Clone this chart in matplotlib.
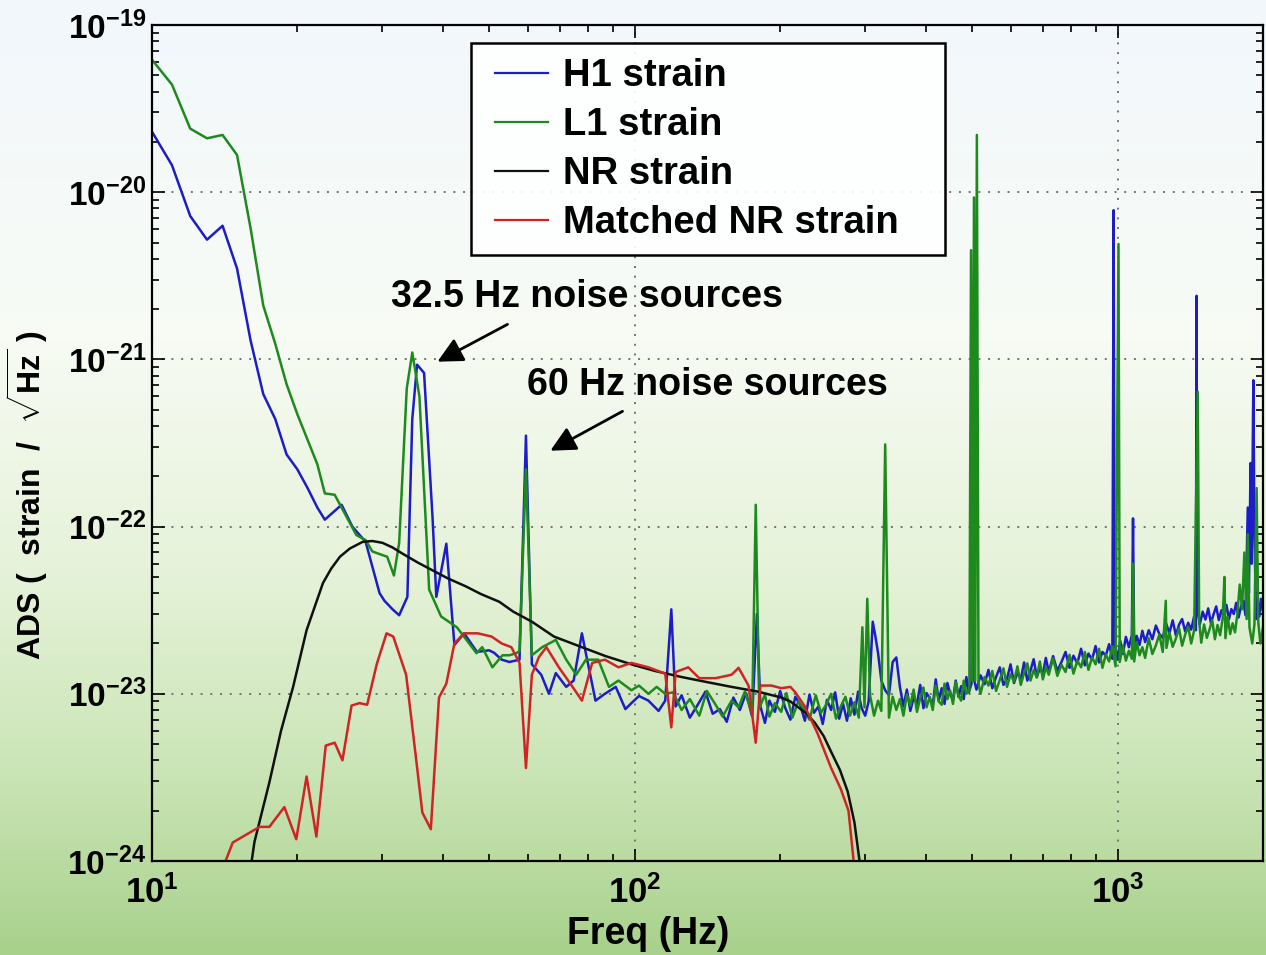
import numpy as np
import matplotlib
matplotlib.use("Agg")
import matplotlib.pyplot as plt
from matplotlib.patches import Rectangle
from matplotlib.ticker import FuncFormatter, FixedLocator, LogLocator, NullFormatter

plt.rcParams['font.family'] = ['Liberation Sans', 'DejaVu Sans']
plt.rcParams['font.weight'] = 'bold'
plt.rcParams['mathtext.fontset'] = 'custom'
plt.rcParams['mathtext.rm'] = 'Liberation Sans:bold'
plt.rcParams['mathtext.bf'] = 'Liberation Sans:bold'

# ADS values are in units of 1e-24 strain / sqrt(Hz)
UNIT = 1e-24
y_ticks = [1e-24, 1e-23, 1e-22, 1e-21, 1e-20, 1e-19]

# H1 strain
h1_freq = [10, 11, 12, 13, 14, 15, 16, 17, 18, 19, 20, 21, 22, 22.8, 24.7, 26.0, 27.7, 29.6, 30.3, 31.5,
           32.5, 33.8, 34.6, 35.4, 36.6, 38.1, 38.8, 40.7, 42.3, 44.3, 47.1, 49.9, 51.1, 53, 55, 57.7, 59.5, 61.2, 64, 66.4,
           68.6, 72.1, 74.7, 77.7, 79.2, 82.9, 86.7, 91.3, 95.6, 98.4, 102, 106.7, 112, 115.6, 119, 121.5,
           125, 130, 135, 140, 145, 150, 155, 160, 165, 170, 175, 179, 182, 186, 190, 195, 200, 205, 210, 215,
           220, 225, 230, 235, 240, 245, 250, 255, 260, 265, 270, 275, 280, 285, 290, 295, 300, 305, 311, 315,
           319, 324, 330, 336, 342, 348, 354, 360, 366, 372, 378, 384, 390, 396, 402, 408, 414, 420, 426, 432,
           438, 444, 450, 456, 462, 468, 474, 480, 486, 492, 498, 500, 502, 510, 520, 530, 540, 550, 560, 570,
           580, 590, 600, 610, 620, 630, 640, 650, 660, 670, 680, 690, 700, 710, 720, 735, 750, 765, 780, 795,
           810, 825, 840, 855, 870, 885, 900, 915, 930, 945, 960, 975, 981, 986, 1000, 1012, 1025, 1040, 1055, 1070,
           1076, 1082, 1095, 1110, 1125, 1140, 1160, 1180, 1200, 1220, 1240, 1260, 1280, 1300, 1320, 1340, 1360, 1380, 1400, 1420,
           1440, 1452, 1457, 1462, 1480, 1500, 1520, 1540, 1560, 1580, 1600, 1620, 1640, 1660, 1680, 1700, 1720, 1740, 1760, 1780,
           1800, 1820, 1840, 1860, 1870, 1885, 1895, 1910, 1920, 1935, 1950, 1965, 1980, 2000]
h1_ads = [23000, 14500, 7200, 5200, 6300, 3500, 1300, 620, 440, 270, 220, 170, 130, 110, 135, 100, 81, 40, 36, 32,
          29.5, 38, 440, 930, 830, 115, 38, 79, 19.6, 23, 17.8, 18.2, 17.6, 16, 15.5, 16, 350, 15, 13, 10,
          13.3, 11, 12, 23, 17.4, 9.1, 10, 11, 8.1, 8.8, 9.7, 9.1, 7.9, 9.1, 32, 8.4,
          9.8, 7.2, 8.6, 10.3, 7.6, 8.1, 6.8, 9.5, 8.0, 10.1, 7.3, 30, 8.4, 6.7, 9.1, 7.8, 10.4, 8.2, 7.0, 9.6,
          8.6, 6.9, 9.9, 7.7, 8.4, 6.6, 9.2, 8.0, 10.2, 7.1, 8.7, 6.9, 9.4, 7.5, 10.3, 8.2, 7.4, 9.0, 27, 22,
          17.5, 12, 10.5, 9.8, 15.5, 16.5, 11, 8.4, 10.6, 7.9, 9.5, 8.7, 11.3, 8.2, 10.1, 9.4, 8.5, 12.2, 9.1, 10.8,
          8.7, 11.6, 10.0, 9.2, 12.0, 9.6, 11.1, 9.3, 12.6, 10.2, 11.5, 100, 12.8, 10.6, 12.9, 11.4, 13.9, 10.8, 12.6, 14.4,
          11.3, 12.3, 15.0, 11.6, 13.4, 12.2, 15.4, 12.0, 13.8, 16.1, 12.6, 14.2, 13.1, 16.4, 13.5, 16.8, 13.7, 15.5, 17.8, 14.3,
          16.9, 15.2, 18.6, 14.8, 17.4, 16.0, 19.3, 15.4, 17.8, 16.9, 19.8, 16.2, 7800, 19.8, 16.0, 20.8, 17.3, 21.9, 19.0, 22.4,
          112, 18.3, 22.2, 19.6, 23.8, 20.4, 24.0, 21.2, 25.6, 22.8, 21.6, 26.3, 23.1, 27.5, 22.4, 25.9, 28.0, 23.6, 26.6, 24.2,
          29.0, 24, 2400, 32, 26.1, 31.0, 27.8, 32.4, 26.5, 29.9, 33.3, 27.6, 31.6, 28.8, 34.0, 27.9, 32.1, 30.0, 35.0, 28.6,
          33.2, 36.0, 29.5, 130, 40, 240, 60, 750, 90, 28, 36, 29, 37, 31]

# L1 strain
l1_freq = [10, 11, 12, 13, 14, 15, 16, 17, 18, 19, 20, 22, 22.8, 23.9, 26.5, 27.7, 28.6, 30.7, 31.7, 32.5,
           33.7, 34.6, 35.8, 37.5, 39.7, 42.8, 44.8, 47.0, 48.3, 50.7, 53.2, 55.0, 56.8, 57.7, 59.5, 61.2, 64.3, 68.6, 72.1, 75.6,
           79.2, 84, 88.4, 92.5, 98.4, 102, 106.7, 111, 115.6, 120, 125, 130, 136, 141, 147, 152, 158.6, 164, 169, 175,
           178, 181, 186, 190, 195, 201, 206, 212, 218, 224, 230, 237, 243, 249, 255, 261, 267, 273, 279, 285,
           291, 296, 299, 303, 307, 313, 319, 324, 330, 336, 342, 348, 354, 360, 366, 372, 378, 384, 390, 396,
           402, 408, 414, 420, 426, 432, 438, 444, 450, 456, 462, 468, 474, 480, 486, 493, 497, 500, 504, 507,
           511, 515, 520, 530, 540, 550, 560, 570, 580, 590, 600, 610, 620, 630, 640, 650, 660, 670, 680, 690,
           700, 710, 720, 735, 750, 765, 780, 795, 810, 825, 840, 855, 870, 885, 900, 915, 930, 945, 960, 975,
           990, 1004, 1010, 1025, 1040, 1055, 1070, 1076, 1082, 1095, 1110, 1125, 1140, 1160, 1180, 1200, 1220, 1240, 1258, 1262,
           1280, 1300, 1320, 1340, 1360, 1380, 1400, 1420, 1440, 1465, 1475, 1490, 1510, 1530, 1550, 1570, 1590, 1610, 1630, 1650,
           1664, 1672, 1690, 1710, 1730, 1750, 1770, 1790, 1810, 1830, 1850, 1860, 1875, 1900, 1920, 1940, 1955, 1975, 2000]
l1_ads = [62000, 44000, 24000, 21000, 22000, 16700, 6100, 2100, 1240, 710, 470, 236, 158, 155, 89, 83, 71, 66, 51, 80,
          670, 1100, 600, 42, 29, 25, 21, 17.5, 19, 14.4, 17, 17, 17.5, 18, 220, 17, 19, 21, 16, 13,
          16, 16, 11, 12, 10.5, 11.2, 10, 11, 10, 10.2, 8.0, 9.3, 7.4, 10.4, 8.6, 7.3, 9.1, 8.3, 10.3, 7.6,
          135, 8.2, 9.9, 7.3, 8.8, 7.8, 10.1, 7.2, 9.0, 8.1, 7.0, 9.8, 7.7, 8.6, 10.0, 7.1, 8.4, 9.6, 7.4, 8.9,
          7.2, 25, 8.3, 37, 9.8, 7.4, 9.1, 7.9, 310, 7.2, 9.6, 8.0, 9.3, 7.4, 9.9, 8.5, 10.6, 7.8, 9.4, 10.9,
          8.3, 9.6, 8.0, 11.2, 9.0, 8.6, 11.5, 9.3, 10.4, 8.7, 11.8, 9.8, 9.1, 12.0, 10.0, 10.5, 4500, 12, 9300, 12,
          22000, 11.5, 10.0, 12.6, 11.2, 13.7, 10.4, 12.1, 14.2, 11.0, 13.1, 11.8, 14.6, 11.3, 13.3, 15.2, 12.0, 13.9, 12.5, 15.6,
          12.2, 14.4, 13.0, 16.3, 12.8, 14.9, 13.5, 17.1, 13.2, 15.8, 14.4, 17.8, 13.9, 16.5, 15.0, 18.6, 14.3, 17.2, 15.6, 19.2,
          14.6, 4900, 15.5, 19.4, 15.8, 18.1, 16.2, 60, 15.6, 20.4, 17.0, 19.0, 16.4, 21.5, 17.3, 19.5, 22.6, 17.8, 36, 18.8,
          23.2, 19.1, 21.4, 24.7, 19.4, 22.6, 25.2, 20.0, 23.9, 640, 27, 20.2, 26.0, 21.6, 24.3, 27.6, 21.2, 25.8, 22.4, 28.2,
          50, 21.5, 28.9, 22.8, 26.4, 23.3, 30, 45, 32, 70, 28, 90, 25, 20, 26, 170, 27, 20, 25]

# NR strain
nr_freq = [15.8, 16.0, 16.3, 17.5, 18.5, 19.6, 20.9, 22.6, 23.5, 24.5, 25.7, 27.3, 28.6, 30.0, 31.5, 33.0, 35.5, 38.0,
           41.0, 44.6, 48.0, 52.4, 56.0, 61.2, 68.0, 77.7, 87.0, 98.4, 110, 125, 140, 158.6, 180, 201, 210, 218,
           227, 236, 246, 255, 266, 276, 285, 292, 300]
nr_ads = [0.7, 0.9, 1.3, 2.95, 6.0, 11, 24, 46, 56, 66, 74, 81, 82, 80, 75, 69, 61, 55,
          49, 44, 39.5, 35.5, 31, 27, 22, 19, 16.8, 15, 13.7, 12.6, 11.8, 11, 10.3, 9.5, 9.0, 8.3,
          7.6, 6.7, 5.6, 4.5, 3.5, 2.6, 1.7, 1.0, 0.7]

# Matched NR strain
mnr_freq = [14.0, 14.7, 16.7, 17.5, 18.8, 19.9, 20.9, 21.9, 22.9, 23.9, 24.8, 25.9, 26.9, 27.9, 29.2, 30.6, 31.6, 33.6,
            35.3, 36.3, 37.8, 39.3, 40.7, 42.3, 44.3, 47.3, 50.5, 53.0, 55.5, 57.7, 59.5, 61.2, 63.3, 65.6, 69.6, 74.0,
            77.7, 81.6, 86.7, 92.5, 98.4, 106.7, 115.6, 119, 121.5, 129, 136, 147, 158.6, 164, 172, 178, 182, 192,
            201, 210, 215, 225, 239, 255, 267, 277, 285]
mnr_ads = [0.9, 1.29, 1.6, 1.6, 2.1, 1.35, 3.2, 1.4, 4.9, 5.1, 4.0, 8.5, 8.8, 8.6, 15, 23, 22, 13,
           3.9, 1.95, 1.55, 9.5, 11.5, 20, 23, 23, 22, 20, 19, 15.3, 3.6, 13, 16.6, 19, 14.4, 11.2,
           9.1, 15.3, 16, 14.4, 15.3, 14.4, 13.2, 6.3, 13.5, 14.4, 12.4, 12.4, 13, 14.3, 11.2, 5.1, 11.2, 11.2,
           10.8, 11.0, 10.2, 8.4, 5.8, 3.6, 2.7, 2.0, 0.9]

series = [
    ("H1 strain", h1_freq, h1_ads, '#1c1cc8'),
    ("L1 strain", l1_freq, l1_ads, '#1e8a1e'),
    ("NR strain", nr_freq, nr_ads, '#111111'),
    ("Matched NR strain", mnr_freq, mnr_ads, '#d02424'),
]

fig = plt.figure(figsize=(12.66, 9.55), dpi=100)

# background gradient (white at top to green at bottom)
bg = fig.add_axes([0, 0, 1, 1], zorder=-10)
pos = np.array([0.0, 0.35, 0.6, 0.8, 1.0])
cols = np.array([[0.95, 0.97, 0.99], [0.97, 0.985, 0.96], [0.90, 0.95, 0.85],
                 [0.80, 0.90, 0.72], [0.66, 0.82, 0.55]])
t = np.linspace(0, 1, 400)
grad = np.stack([np.interp(t, pos, cols[:, k]) for k in range(3)], axis=-1)[:, None, :]
bg.imshow(grad, aspect='auto', extent=[0, 1, 0, 1])
bg.set_axis_off()

ax = fig.add_axes([152 / 1266, 94 / 955, 1111 / 1266, 836 / 955])
ax.set_facecolor('none')

for label, f, a, c in series:
    ax.plot(f, np.array(a) * UNIT, color=c, lw=1.8, label=label)

ax.set_xscale('log')
ax.set_yscale('log')
ax.set_xlim(10, 2000)
ax.set_ylim(1e-24, 1e-19)

fmt = FuncFormatter(lambda v, p: r'$\mathbf{10^{%d}}$' % round(np.log10(v)))
ax.xaxis.set_major_formatter(fmt)
ax.yaxis.set_major_formatter(fmt)
ax.xaxis.set_minor_formatter(NullFormatter())
ax.yaxis.set_minor_formatter(NullFormatter())
ax.yaxis.set_major_locator(FixedLocator(y_ticks))
ax.yaxis.set_minor_locator(LogLocator(base=10, subs=np.arange(2, 10), numticks=20))

ax.tick_params(which='both', direction='in', top=True, right=True, width=1.2)
ax.tick_params(which='major', length=9)
ax.tick_params(which='minor', length=5)
ax.tick_params(axis='x', labelsize=25, pad=10)
ax.tick_params(axis='y', labelsize=24, pad=4)
for s in ax.spines.values():
    s.set_linewidth(1.6)

ax.grid(True, which='major', color='0.45', linestyle=(0, (1, 4)), lw=1.4)

ax.set_xlabel("Freq (Hz)", fontsize=27, fontweight='bold')
ax.xaxis.set_label_coords(0.447, -0.066)
ax.set_ylabel(r"ADS (  strain  /  $\sqrt{\mathbf{Hz}}$ )", fontsize=23, fontweight='bold')
ax.yaxis.set_label_coords(-0.092, 0.438)

# legend: text and handles, with a box drawn around them
leg = ax.legend(loc='upper left', bbox_to_anchor=(0.3087, 0.960), frameon=False,
                prop={'weight': 'bold', 'size': 27.5},
                handlelength=1.38, handletextpad=0.4, labelspacing=0.34,
                borderpad=0, borderaxespad=0)
for line in leg.get_lines():
    line.set_linewidth(1.6)
ax.add_patch(Rectangle((0.2871, 0.7249), 0.4267, 0.2536, transform=ax.transAxes,
                       facecolor='white', alpha=0.9, edgecolor='none', zorder=4.4))
ax.add_patch(Rectangle((0.2871, 0.7249), 0.4267, 0.2536, transform=ax.transAxes,
                       facecolor='none', edgecolor='black', lw=1.8, zorder=4.5))

ax.annotate('', xy=(0.2547, 0.5957), xytext=(0.3222, 0.6435), xycoords='axes fraction',
            arrowprops=dict(arrowstyle='-|>', color='black', lw=2, mutation_scale=38))
ax.text(0.3915, 0.6746, "32.5 Hz noise sources", transform=ax.transAxes, fontsize=27,
        fontweight='bold', ha='center', va='center')
ax.annotate('', xy=(0.3564, 0.4892), xytext=(0.4257, 0.5395), xycoords='axes fraction',
            arrowprops=dict(arrowstyle='-|>', color='black', lw=2, mutation_scale=38))
ax.text(0.4995, 0.5694, "60 Hz noise sources", transform=ax.transAxes, fontsize=27,
        fontweight='bold', ha='center', va='center')

fig.savefig("out.png", dpi=100)
